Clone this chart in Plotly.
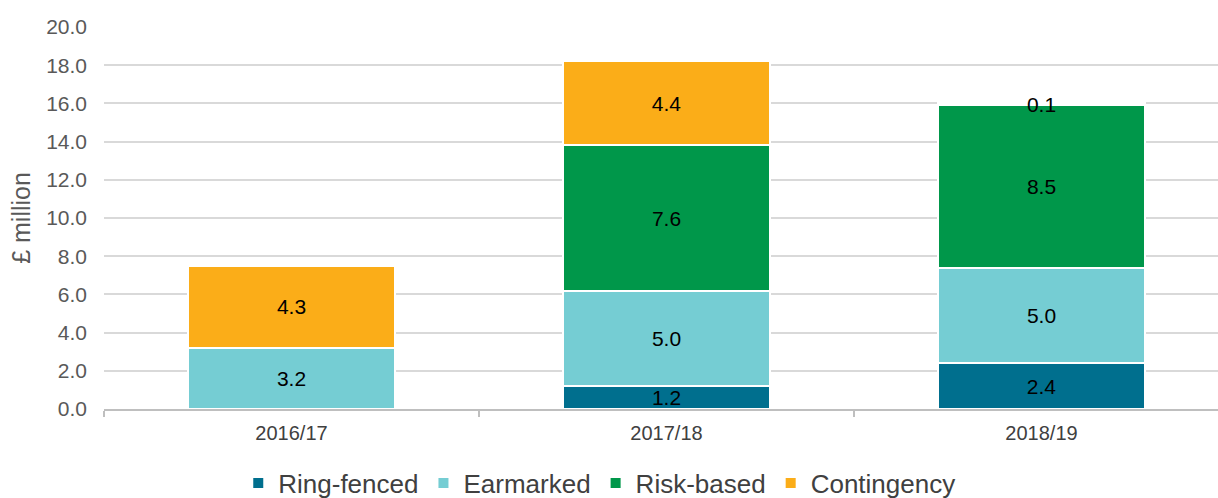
import plotly.graph_objects as go

categories = ["2016/17", "2017/18", "2018/19"]
ring_fenced = [0.0, 1.2, 2.4]
earmarked = [3.2, 5.0, 5.0]
risk_based = [0.0, 7.6, 8.5]
contingency = [4.3, 4.4, 0.1]

series = [
    ("Ring-fenced", ring_fenced, "#006F8E"),
    ("Earmarked", earmarked, "#75CDD3"),
    ("Risk-based", risk_based, "#00974A"),
    ("Contingency", contingency, "#FBAD18"),
]

FONT = "Liberation Sans, Arial, sans-serif"

fig = go.Figure()
for name, vals, color in series:
    fig.add_trace(go.Bar(
        name=name,
        x=categories,
        y=vals,
        marker=dict(color=color, line=dict(color="white", width=2)),
        text=[f"{v:.1f}" if v > 0 else "" for v in vals],
        textposition="inside",
        insidetextanchor="middle",
        textangle=0,
        textfont=dict(family=FONT, size=21, color="#000000"),
        hoverinfo="skip",
    ))

fig.update_layout(
    barmode="stack",
    bargap=0.45,
    width=1218,
    height=498,
    margin=dict(l=104, r=0, t=27, b=89),
    plot_bgcolor="white",
    paper_bgcolor="white",
    font=dict(family=FONT, color="#595959"),
    uniformtext=dict(minsize=21, mode="show"),
    legend=dict(
        orientation="h",
        xref="container", yref="container",
        x=0.492, y=0.03, xanchor="center", yanchor="middle",
        font=dict(family=FONT, size=26, color="#404040"),
        itemwidth=30,
        traceorder="normal",
    ),
    xaxis=dict(
        range=[-0.5, 2.4707],
        showline=True, linecolor="#bfbfbf", linewidth=2,
        ticks="outside", tickson="boundaries", ticklen=6, tickcolor="#bfbfbf", tickwidth=2,
        tickfont=dict(family=FONT, size=20, color="#404040"),
        ticklabelstandoff=5,
        showgrid=False, zeroline=False,
    ),
    yaxis=dict(
        range=[0, 20],
        dtick=2, tickformat=".1f",
        showgrid=True, gridcolor="#d9d9d9", gridwidth=1.5,
        zeroline=False, showline=False, ticks="",
        tickfont=dict(family=FONT, size=21, color="#595959"),
        ticklabelstandoff=16,
        title=dict(text="£ million", font=dict(family=FONT, size=25, color="#595959"), standoff=8),
        automargin=False,
    ),
)

fig.write_html(
    "out.html",
    config={"displayModeBar": False},
    post_script="document.body.style.margin='0';document.body.style.overflow='hidden';",
)
